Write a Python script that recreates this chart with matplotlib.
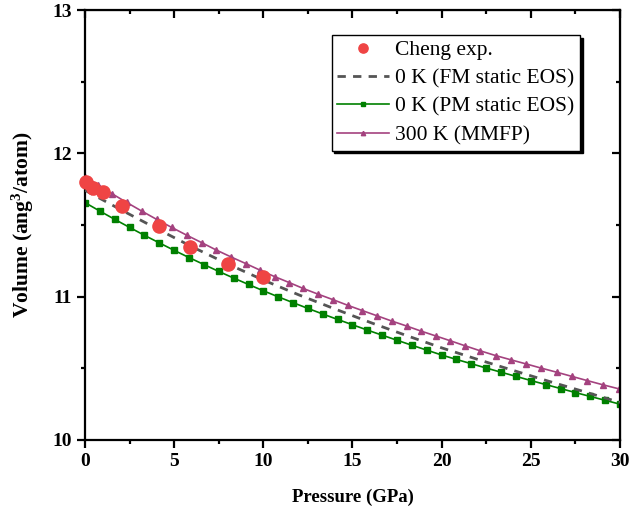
import matplotlib
matplotlib.use("Agg")
import matplotlib.pyplot as plt
from matplotlib.ticker import MultipleLocator

plt.rcParams['font.family'] = ['Liberation Serif', 'DejaVu Serif']
plt.rcParams['mathtext.fontset'] = 'custom'
plt.rcParams['mathtext.rm'] = 'Liberation Serif:bold'
plt.rcParams['mathtext.bf'] = 'Liberation Serif:bold'
plt.rcParams['mathtext.it'] = 'Liberation Serif:bold'

# Cheng experiment
exp_p = [0.06, 0.47, 0.99, 2.06, 4.12, 5.90, 8.02, 9.98]
exp_v = [11.80, 11.76, 11.73, 11.63, 11.49, 11.35, 11.23, 11.14]

# 0 K FM static EOS
fm_p = [0, 2, 4, 6, 8, 10, 12, 14, 16, 18, 20, 22, 24, 26, 28, 30]
fm_v = [11.742, 11.607, 11.476, 11.348, 11.228, 11.116, 11.012, 10.915,
        10.820, 10.730, 10.643, 10.563, 10.486, 10.410, 10.337, 10.262]

# 0 K PM static EOS
pm_p = [0.00, 0.83, 1.67, 2.50, 3.33, 4.17, 5.00, 5.83, 6.67, 7.50, 8.33, 9.17,
        10.00, 10.83, 11.67, 12.50, 13.33, 14.17, 15.00, 15.83, 16.67, 17.50,
        18.33, 19.17, 20.00, 20.83, 21.67, 22.50, 23.33, 24.17, 25.00, 25.83,
        26.67, 27.50, 28.33, 29.17, 30.00]
pm_v = [11.656, 11.597, 11.539, 11.483, 11.428, 11.375, 11.323, 11.273, 11.224,
        11.176, 11.130, 11.085, 11.041, 10.999, 10.958, 10.918, 10.879, 10.841,
        10.804, 10.767, 10.731, 10.696, 10.661, 10.627, 10.593, 10.562, 10.532,
        10.502, 10.473, 10.444, 10.415, 10.387, 10.359, 10.331, 10.304, 10.277,
        10.250]

# 300 K MMFP
mm_p = [0.00, 0.72, 1.50, 2.34, 3.18, 4.02, 4.86, 5.70, 6.54, 7.35, 8.19, 9.03,
        9.83, 10.63, 11.46, 12.24, 13.08, 13.93, 14.73, 15.55, 16.39, 17.20,
        18.04, 18.84, 19.67, 20.47, 21.32, 22.17, 23.03, 23.87, 24.73, 25.57,
        26.45, 27.30, 28.15, 29.05, 29.97]
mm_v = [11.838, 11.781, 11.719, 11.657, 11.597, 11.539, 11.483, 11.429, 11.377,
        11.326, 11.277, 11.230, 11.184, 11.140, 11.098, 11.057, 11.017, 10.978,
        10.940, 10.903, 10.866, 10.830, 10.795, 10.760, 10.726, 10.693, 10.657,
        10.622, 10.589, 10.560, 10.531, 10.502, 10.473, 10.444, 10.415, 10.385,
        10.356]

fig = plt.figure(figsize=(6.3, 5.16), dpi=100)
ax = fig.add_axes([0.135, 0.1473, 0.849, 0.8333])

ax.plot(fm_p, fm_v, color='#555555', lw=2.0, dashes=(3, 2.6),
        label='0 K (FM static EOS)', zorder=3)
ax.plot(pm_p, pm_v, color='#008000', lw=1.2, marker='s', ms=4.5,
        label='0 K (PM static EOS)', zorder=2)
ax.plot(mm_p, mm_v, color='#a4427f', lw=1.2, marker='^', ms=4.5,
        label='300 K (MMFP)', zorder=2)
ax.plot(exp_p, exp_v, 'o', color='#ef4444', ms=9.5, ls='none',
        label='Cheng exp.', zorder=4, clip_on=False)

ax.set_xlim(0, 30)
ax.set_ylim(10, 13)
ax.xaxis.set_major_locator(MultipleLocator(5))
ax.xaxis.set_minor_locator(MultipleLocator(2.5))
ax.yaxis.set_major_locator(MultipleLocator(1))
ax.yaxis.set_minor_locator(MultipleLocator(0.5))

for sp in ax.spines.values():
    sp.set_linewidth(1.6)
ax.tick_params(which='major', direction='out', length=6, width=1.6, labelsize=14)
ax.tick_params(which='minor', direction='out', length=3, width=1.6)
for lab in ax.get_xticklabels() + ax.get_yticklabels():
    lab.set_fontweight('bold')

# inward ticks on top and right
top = ax.secondary_xaxis('top')
top.xaxis.set_major_locator(MultipleLocator(5))
top.xaxis.set_minor_locator(MultipleLocator(2.5))
top.tick_params(which='major', direction='in', length=6, width=1.6, labeltop=False)
top.tick_params(which='minor', direction='in', length=3, width=1.6)
right = ax.secondary_yaxis('right')
right.yaxis.set_major_locator(MultipleLocator(1))
right.yaxis.set_minor_locator(MultipleLocator(0.5))
right.tick_params(which='major', direction='in', length=6, width=1.6, labelright=False)
right.tick_params(which='minor', direction='in', length=3, width=1.6)

ax.set_xlabel('Pressure (GPa)', fontsize=13.5, fontweight='bold', labelpad=13)
ax.set_ylabel('Volume (ang$^3$/atom)', fontsize=15.5, fontweight='bold', labelpad=12)

handles, labels = ax.get_legend_handles_labels()
order = [3, 0, 1, 2]
leg = ax.legend([handles[i] for i in order], [labels[i] for i in order],
                loc='upper right', bbox_to_anchor=(0.925, 0.942), fontsize=15.5,
                frameon=True, fancybox=False, shadow={'color': 'black', 'alpha': 1},
                handlelength=2.4, handletextpad=0.3, labelspacing=0.38,
                borderpad=0.25, borderaxespad=0, markerscale=0.7)
leg.get_frame().set_edgecolor('black')
leg.get_frame().set_linewidth(1.0)

fig.savefig('out.png', dpi=100)
